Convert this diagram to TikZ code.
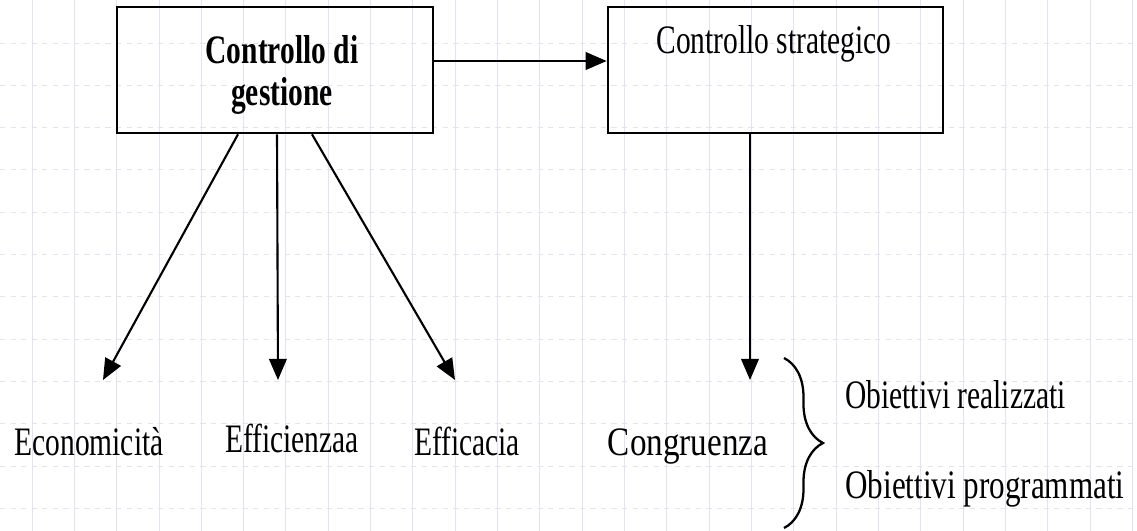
\documentclass[tikz,border=0pt]{standalone}
\usepackage{fontspec}
\setmainfont{Liberation Serif}
\usepackage{graphicx}
\usepackage{tikz}
\usetikzlibrary{arrows.meta,positioning,calc,decorations.pathreplacing}
\definecolor{gridline}{RGB}{226,226,242}
\newcommand{\narrow}[2][0.73]{\scalebox{#1}[1]{#2}}

\begin{document}
\begin{tikzpicture}[x=0.02cm, y=-0.02cm,
        box/.style={draw, line width=1.5pt, minimum height=2.52cm, inner sep=0pt},
        lbl/.style={font=\fontsize{23}{23.8}\selectfont, inner sep=0pt},
        arr/.style={line width=1.2pt, -{Triangle[length=12pt, width=10pt]}}]
            \useasboundingbox (0,0) rectangle (1137,531);
            \fill[white] (0,0) rectangle (1137,531);

            % Background grid
            \foreach \k in {0,...,26} {
                \draw[gridline, line width=0.5pt] ({32+42.32*\k},0) -- ({32+42.32*\k},531);
            }
            \foreach \k in {0,...,11} {
                \draw[gridline, line width=0.5pt, dashed] (0,{43+42.3*\k}) -- (1137,{43+42.3*\k});
            }

            % Boxes
            \node[box, minimum width=6.32cm] (gest) at (275,70) {};
            \node[lbl, align=center] (gestlbl) at (282,75) {\narrow{\textbf{Controllo di}}\\\narrow{\textbf{gestione}}};
            \node[box, minimum width=6.7cm] (strat) at (775.5,70) {};
            \node[lbl, anchor=base] (stratlbl) at (774,53) {\narrow{Controllo strategico}};

            % Labels
            \node[lbl, anchor=base] (eco) at (89,455) {\narrow{Economicità}};
            \node[lbl, anchor=base] (effz) at (292,452) {\narrow{Efficienzaa}};
            \node[lbl, anchor=base] (effc) at (467,455) {\narrow{Efficacia}};
            \node[lbl, anchor=base] (cong) at (688,455) {\narrow[0.82]{Congruenza}};
            \node[lbl, anchor=base west] (obreal) at (845,408) {\narrow{Obiettivi realizzati}};
            \node[lbl, anchor=base west] (obprog) at (845,498) {\narrow[0.77]{Obiettivi programmati}};

            % Arrow ends
            \coordinate (tipeco) at (103,380);
            \coordinate (tipeffz) at (278,380);
            \coordinate (tipeffc) at (455,380);
            \coordinate (tipcong) at (750,380);

            % Arrows
            \draw[arr] ($(gest.east)+(0,-9)$) -- ($(strat.west)+(0,-9)$);
            \draw[arr] ($(gest.south)+(-37,0)$) -- (tipeco);
            \draw[arr] ($(gest.south)+(2,0)$) -- (tipeffz);
            \draw[arr] ($(gest.south)+(37,0)$) -- (tipeffc);
            \draw[arr] ($(strat.south)+(-25.5,0)$) -- (tipcong);

            % Brace
            \coordinate (bracetop) at (784,358);
            \coordinate (bracebot) at (784,528);
            \draw[line width=1.3pt, decorate, decoration={brace, amplitude=0.78cm}] (bracetop) -- (bracebot);
        \end{tikzpicture}
\end{document}
